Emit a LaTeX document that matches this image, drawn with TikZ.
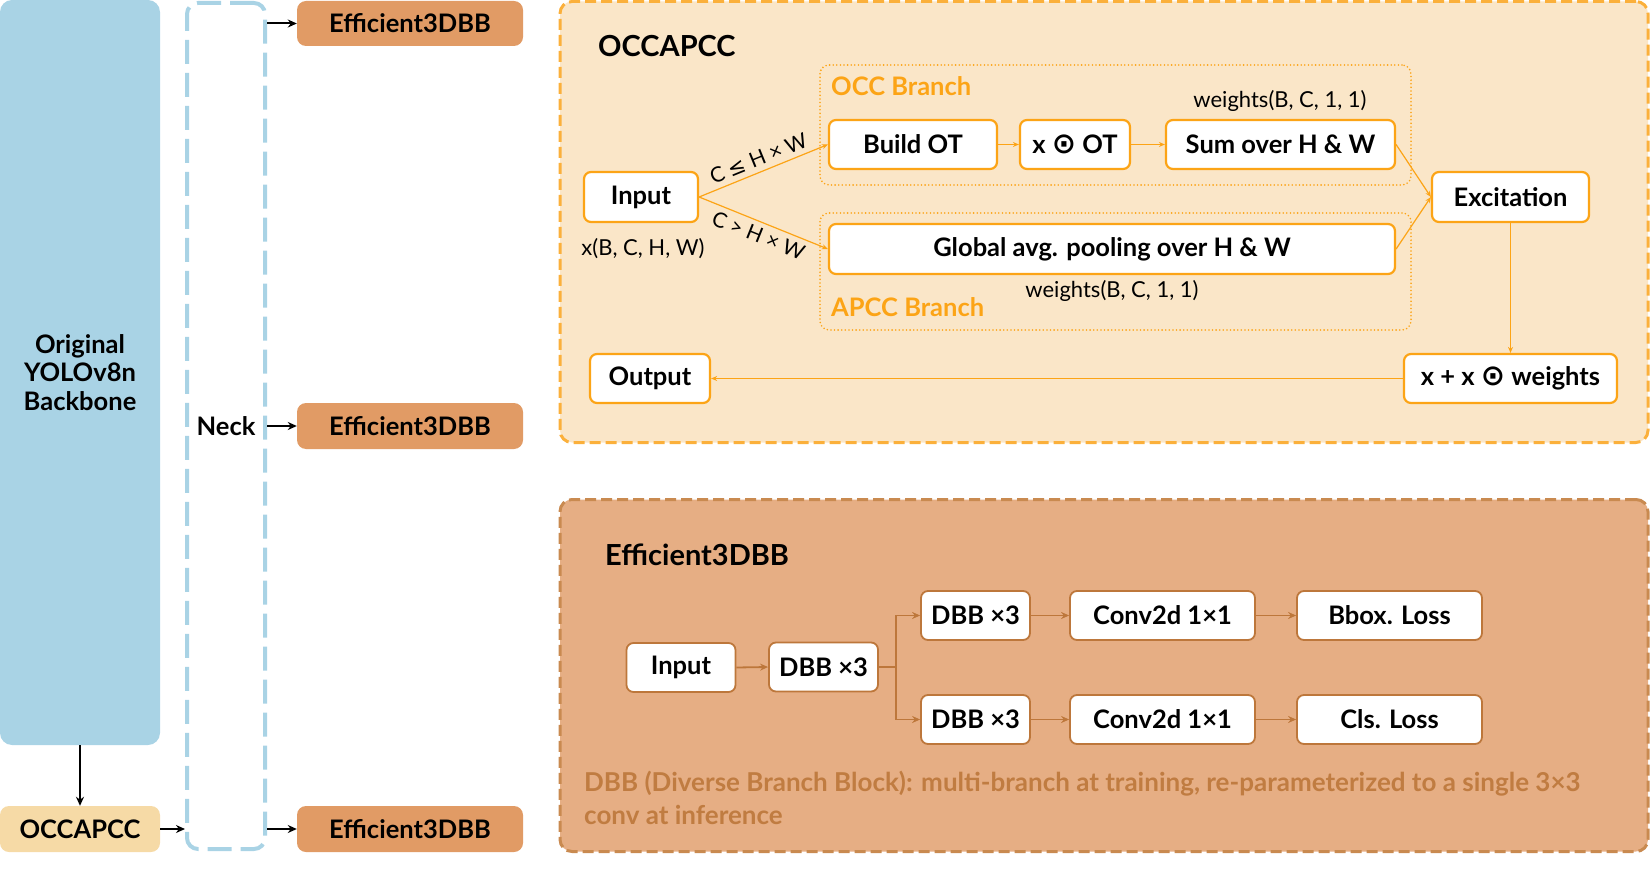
\documentclass[tikz,border=0pt]{standalone}
\usepackage{fontspec}
\setmainfont{Lato}
\newfontfamily\symfont{DejaVu Sans}
\usetikzlibrary{arrows.meta}
\definecolor{bbblue}{HTML}{A9D3E5}
\definecolor{occsmall}{HTML}{F6DAA6}
\definecolor{effill}{HTML}{E19B65}
\definecolor{ocfill}{HTML}{FAE6C8}
\definecolor{ocdash}{HTML}{FBB03B}
\definecolor{ocborder}{HTML}{FCA416}
\definecolor{efpanel}{HTML}{E6AE84}
\definecolor{efdash}{HTML}{C98A50}
\definecolor{efborder}{HTML}{BD773B}
\definecolor{eftext}{HTML}{C07C41}
\newcommand{\nf}{\fontsize{25.5}{28.5}\selectfont\bfseries}
\newcommand{\tf}{\fontsize{29}{34}\selectfont\bfseries}
\newcommand{\rf}{\fontsize{22}{25}\selectfont}
\newcommand{\slf}{\fontsize{21}{24}\selectfont}
\newcommand{\odotsym}{{\symfont\fontsize{29}{29}\selectfont ⊙}}
\begin{document}
\begin{tikzpicture}[x=1pt,y=-1pt,
  ob/.style={draw=ocborder, line width=2.2pt, fill=white, rounded corners=7pt, font=\nf, inner sep=0pt},
  eb/.style={draw=efborder, line width=1.8pt, fill=white, rounded corners=7pt, font=\nf, inner sep=0pt},
  branchbox/.style={draw=ocborder, line width=1.8pt, dash pattern=on 0pt off 3.6pt, line cap=round, rounded corners=9pt, inner sep=0pt},
  oarr/.style={draw=ocborder, line width=1.2pt, -{Stealth[length=6pt,width=5pt]}},
  earr/.style={draw=efborder, line width=1.8pt, -{Stealth[length=8pt,width=7pt]}},
  karr/.style={draw=black, line width=2pt, -{Stealth[length=9pt,width=8pt]}},
  lbl/.style={font=\rf, inner sep=0pt}
]
\useasboundingbox (0,0) rectangle (1650,869);

% ---------- left column ----------
\node[fill=bbblue, rounded corners=12pt, minimum width=160pt, minimum height=745pt, inner sep=0pt, align=center, font=\nf] (bb) at (80,372.5) {Original\\YOLOv8n\\Backbone};
\node[fill=occsmall, rounded corners=9pt, minimum width=160pt, minimum height=46pt, inner sep=0pt, font=\nf] (occs) at (80,829) {OCCAPCC};
\node[draw=bbblue, line width=4pt, dash pattern=on 24pt off 9pt, rounded corners=11pt, minimum width=78pt, minimum height=846pt, inner sep=0pt, font=\nf] (neck) at (226,426) {Neck};
\node[fill=effill, rounded corners=9pt, minimum width=226pt, minimum height=45pt, inner sep=0pt, font=\nf] (e1) at (410,23.5) {Efficient3DBB};
\node[fill=effill, rounded corners=9pt, minimum width=226pt, minimum height=46pt, inner sep=0pt, font=\nf] (e2) at (410,426) {Efficient3DBB};
\node[fill=effill, rounded corners=9pt, minimum width=226pt, minimum height=46pt, inner sep=0pt, font=\nf] (e3) at (410,829) {Efficient3DBB};

\draw[karr] (bb.south) -- (occs.north);
\draw[karr] (occs.east) -- (occs.east -| neck.west);
\draw[karr] (neck.east |- e1.west) -- (e1.west);
\draw[karr] (neck.east |- e2.west) -- (e2.west);
\draw[karr] (neck.east |- e3.west) -- (e3.west);

% ---------- OCCAPCC panel ----------
\node[draw=ocdash, fill=ocfill, line width=3pt, dash pattern=on 11pt off 5pt, rounded corners=12pt, minimum width=1088pt, minimum height=441pt, inner sep=0pt] (ocpanel) at (1104,222) {};
\node[anchor=west, font=\tf, inner sep=0pt] (octitle) at (598,46) {OCCAPCC};

\node[branchbox, minimum width=591pt, minimum height=120pt] (occb) at (1115.5,125) {};
\node[branchbox, minimum width=591pt, minimum height=117pt] (apccb) at (1115.5,271.5) {};
\node[anchor=west, font=\nf, text=ocborder, inner sep=0pt] (occlbl) at (831,86) {OCC Branch};
\node[anchor=west, font=\nf, text=ocborder, inner sep=0pt] (apcclbl) at (831,307) {APCC Branch};

\node[ob, minimum width=114pt, minimum height=50pt] (oin) at (641,197) {Input};
\node[lbl] (xshape) at (643,249) {x(B, C, H, W)};
\node[ob, minimum width=168pt, minimum height=49pt] (bot) at (913,144.5) {Build OT};
\node[ob, minimum width=110pt, minimum height=49pt] (xot) at (1075,144.5) {x \odotsym{} OT};
\node[ob, minimum width=229pt, minimum height=49pt] (sum) at (1280.5,144.5) {Sum over H \& W};
\node[lbl] (w1) at (1280,101) {weights(B, C, 1, 1)};
\node[ob, minimum width=566pt, minimum height=50pt] (gap) at (1112,249) {Global avg. pooling over H \& W};
\node[lbl] (w2) at (1112,291) {weights(B, C, 1, 1)};
\node[ob, minimum width=157pt, minimum height=50pt] (exc) at (1510.5,197) {Excitation};
\node[ob, minimum width=213pt, minimum height=49pt] (xw) at (1510.5,378.5) {x + x \odotsym{} weights};
\node[ob, minimum width=120pt, minimum height=49pt] (out) at (650,378.5) {Output};

\draw[oarr] (oin.east) -- node[sloped, above, font=\slf, inner sep=5pt] {C {\symfont ≤} H × W} (bot.west);
\draw[oarr] (oin.east) -- node[sloped, below, font=\slf, inner sep=5pt] {C > H × W} (gap.west);
\draw[oarr] (bot.east) -- (xot.west);
\draw[oarr] (xot.east) -- (sum.west);
\draw[oarr] (sum.east) -- (exc.west);
\draw[oarr] (gap.east) -- (exc.west);
\draw[oarr] (exc.south) -- (xw.north);
\draw[oarr] (xw.west) -- (out.east);

% ---------- Efficient3DBB panel ----------
\node[draw=efdash, fill=efpanel, line width=3pt, dash pattern=on 11pt off 5pt, rounded corners=12pt, minimum width=1088pt, minimum height=352pt, inner sep=0pt] (efpanelnode) at (1104,675.5) {};
\node[anchor=west, font=\tf, inner sep=0pt] (eftitle) at (605,555) {Efficient3DBB};

\node[eb, minimum width=109pt, minimum height=49pt] (ein) at (681,667.5) {Input};
\node[eb, minimum width=109pt, minimum height=49pt] (edbb) at (823.5,667) {DBB ×3};
\node[eb, minimum width=109pt, minimum height=49pt] (dbbt) at (975.5,615.5) {DBB ×3};
\node[eb, minimum width=109pt, minimum height=49pt] (dbbb) at (975.5,719.5) {DBB ×3};
\node[eb, minimum width=185pt, minimum height=49pt] (convt) at (1162.5,615.5) {Conv2d 1×1};
\node[eb, minimum width=185pt, minimum height=49pt] (convb) at (1162.5,719.5) {Conv2d 1×1};
\node[eb, minimum width=185pt, minimum height=49pt] (bbox) at (1389.5,615.5) {Bbox. Loss};
\node[eb, minimum width=185pt, minimum height=49pt] (cls) at (1389.5,719.5) {Cls. Loss};
\coordinate (split) at (896,667);

\draw[earr] (ein.east) -- (edbb.west);
\draw[earr] (edbb.east) -- (split) |- (dbbt.west);
\draw[earr] (edbb.east) -- (split) |- (dbbb.west);
\draw[earr] (dbbt.east) -- (convt.west);
\draw[earr] (dbbb.east) -- (convb.west);
\draw[earr] (convt.east) -- (bbox.west);
\draw[earr] (convb.east) -- (cls.west);

\node[anchor=north west, font={\fontsize{26}{33}\selectfont\bfseries}, text=eftext, align=left, inner sep=0pt] (note) at (584,771) {DBB (Diverse Branch Block): multi-branch at training, re-parameterized to a single 3×3\\conv at inference};
\end{tikzpicture}
\end{document}
